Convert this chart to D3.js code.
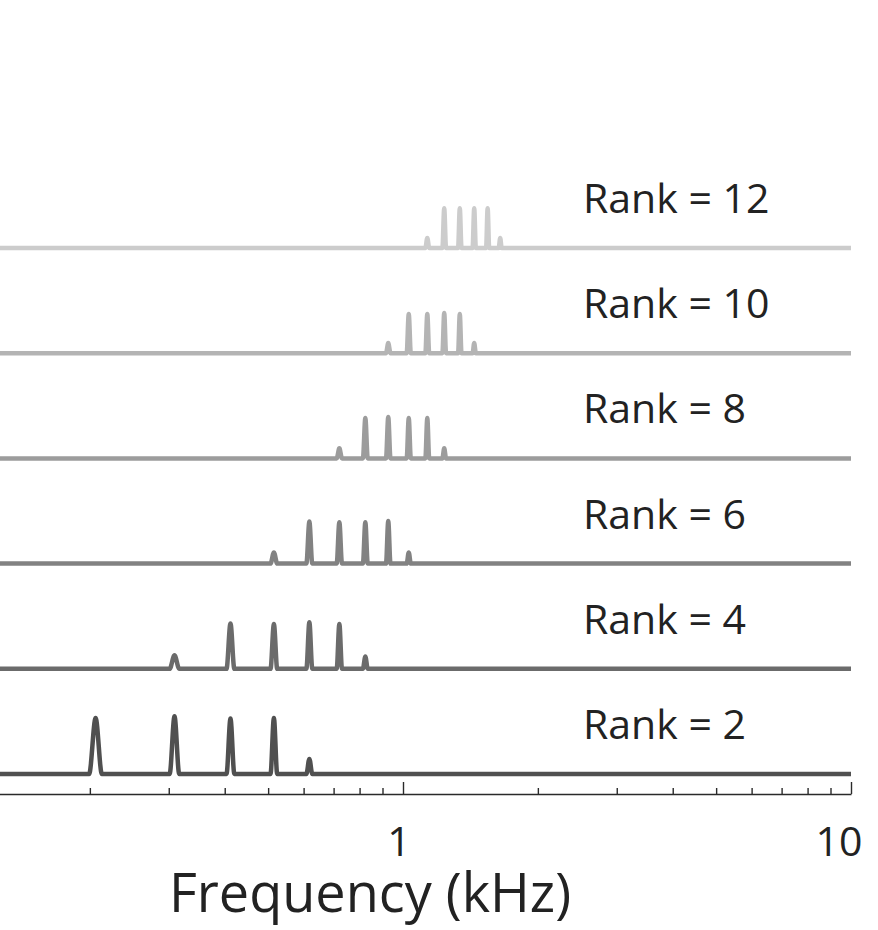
<!DOCTYPE html>
<html>
<head>
<meta charset="utf-8">
<script src="https://cdn.jsdelivr.net/npm/d3@7"></script>
<style>
  body { margin: 0; background: #fff; }
  text { font-family: "Open Sans", "Noto Sans", sans-serif; fill: #222; }
</style>
</head>
<body>
<svg id="chart" width="878" height="930"></svg>
<script>
// fundamental frequency of the complex (kHz)
const f0 = 0.103;
const ranks = [2, 4, 6, 8, 10, 12];
// harmonic numbers present in each spectrum
const harmonics = [
  [2, 3, 4, 5, 6],
  [3, 4, 5, 6, 7, 8],
  [5, 6, 7, 8, 9, 10],
  [7, 8, 9, 10, 11, 12],
  [9, 10, 11, 12, 13, 14],
  [11, 12, 13, 14, 15, 16]
];
// relative amplitude of each harmonic
const amplitudes = [
  [1.0, 1.03, 0.99, 1.0, 0.27],
  [0.24, 0.81, 0.80, 0.83, 0.80, 0.22],
  [0.2, 0.75, 0.74, 0.74, 0.76, 0.2],
  [0.18, 0.72, 0.74, 0.72, 0.72, 0.18],
  [0.18, 0.70, 0.70, 0.72, 0.70, 0.18],
  [0.18, 0.71, 0.71, 0.71, 0.71, 0.18]
];
const lineColors = ["#505050", "#6b6b6b", "#828282", "#9c9c9c", "#b4b4b4", "#cccccc"];
const minorTicks = [0.2, 0.3, 0.4, 0.5, 0.6, 0.7, 0.8, 0.9, 2, 3, 4, 5, 6, 7, 8, 9];
const majorTicks = [1, 10];
const freqRange = [0.1, 10];

const svg = d3.select("#chart");

const x = d3.scaleLog().domain(freqRange).range([-45, 851]);
const offset = d3.scalePoint().domain(ranks).range([774, 248]);
const amp = d3.scaleLinear().domain([0, 1]).range([0, 56]);

// peak half width grows slowly with frequency
const halfWidth = f => 0.0108 * Math.pow(f, 0.3);

const line = d3.line()
  .x(d => x(d[0]))
  .y(d => d[1])
  .curve(d3.curveMonotoneX);

ranks.forEach((r, i) => {
  const base = offset(r);
  let pts = [[freqRange[0], base]];
  harmonics[i].forEach((h, j) => {
    const f = h * f0;
    const w = halfWidth(f);
    pts.push([f - w, base]);
    pts.push([f, base - amp(amplitudes[i][j])]);
    pts.push([f + w, base]);
  });
  pts.push([freqRange[1], base]);

  svg.append("path")
    .attr("d", line(pts))
    .attr("fill", "none")
    .attr("stroke", lineColors[i])
    .attr("stroke-width", 4.5)
    .attr("stroke-linejoin", "round")
    .attr("stroke-linecap", "butt");

  svg.append("text")
    .attr("x", 583)
    .attr("y", base - 35)
    .style("font-size", "41px")
    .text("Rank = " + r);
});

const axisY = 794;
const axis = svg.append("g")
  .attr("transform", "translate(0," + axisY + ")")
  .call(d3.axisTop(x)
    .tickValues(minorTicks.concat(majorTicks))
    .tickSize(6)
    .tickSizeOuter(0)
    .tickFormat(""));

axis.select(".domain").attr("stroke", "#2a2a2a").attr("stroke-width", 1.6);
axis.selectAll(".tick line")
  .attr("stroke", "#2a2a2a")
  .attr("stroke-width", 1.4)
  .attr("y2", d => majorTicks.includes(d) ? -12 : -6);

svg.selectAll(".major-label")
  .data(majorTicks)
  .enter()
  .append("text")
  .attr("class", "major-label")
  .attr("x", d => x(d) + (d === 10 ? -12 : -4))
  .attr("y", 856)
  .attr("text-anchor", "middle")
  .style("font-size", "41px")
  .text(d => d);

svg.append("text")
  .attr("x", 370)
  .attr("y", 912)
  .attr("text-anchor", "middle")
  .style("font-size", "54px")
  .text("Frequency (kHz)");
</script>
</body>
</html>
